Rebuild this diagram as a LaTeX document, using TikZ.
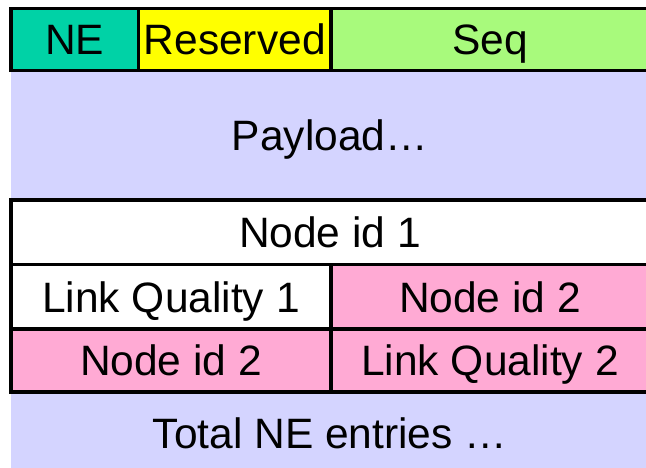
\documentclass[tikz,border=0pt]{standalone}
\usepackage{fontspec}
\setmainfont{Liberation Sans}
\definecolor{neteal}{RGB}{0,210,166}
\definecolor{resyellow}{RGB}{255,255,0}
\definecolor{seqgreen}{RGB}{168,250,124}
\definecolor{lavender}{RGB}{212,212,255}
\definecolor{pinkcell}{RGB}{255,170,212}
\begin{document}
\begin{tikzpicture}[x=1pt,y=-1pt,
  celltext/.style={inner sep=0pt,outer sep=0pt,text height=30.8pt,text depth=0pt,
    font=\fontsize{42.5}{49}\selectfont},
  cell/.style={celltext,draw=black,line width=3.4pt},
  band/.style={celltext,fill=lavender}]
\useasboundingbox (0,0) rectangle (646,468);
\clip (0,0) rectangle (646,468);
% lavender bands
\node[band,minimum width=638pt,minimum height=129.5pt] (payload) at (330,135.25) {Payload…};
\node[band,minimum width=638pt,minimum height=78pt] (total) at (330,433) {Total NE entries …};
% header row
\node[cell,fill=neteal,minimum width=127.5pt,minimum height=61.8pt] (ne) at (74.75,39.6) {NE};
\node[cell,fill=resyellow,minimum width=192.5pt,minimum height=61.8pt] (res) at (234.75,39.6) {Reserved};
\node[cell,fill=seqgreen,minimum width=318pt,minimum height=61.8pt] (seq) at (490,39.6) {Seq};
% entries
\node[cell,fill=white,minimum width=638pt,minimum height=64.5pt] (nid1) at (330,232.25) {Node id 1};
\node[cell,fill=white,minimum width=320pt,minimum height=64.5pt] (lq1) at (171,296.75) {Link Quality 1};
\node[cell,fill=pinkcell,minimum width=318pt,minimum height=64.5pt] (nid2a) at (490,296.75) {Node id 2};
\node[cell,fill=pinkcell,minimum width=320pt,minimum height=63pt] (nid2b) at (171,360.5) {Node id 2};
\node[cell,fill=pinkcell,minimum width=318pt,minimum height=63pt] (lq2) at (490,360.5) {Link Quality 2};
\end{tikzpicture}
\end{document}
